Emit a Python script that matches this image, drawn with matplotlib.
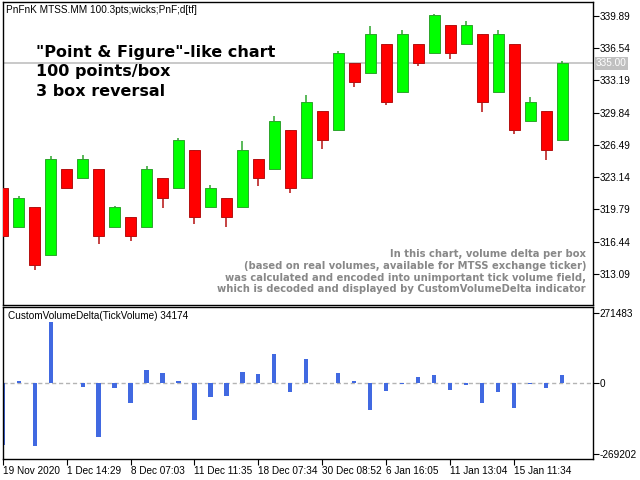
import matplotlib

matplotlib.use("Agg")
import matplotlib.pyplot as plt
import matplotlib.transforms as mtransforms

# boxes: open / close / high / low per column
opens = [322, 318, 320, 315, 324, 323, 324, 318, 319, 318, 323, 322, 326, 320, 321, 320, 325, 324,
         328, 323, 330, 328, 335, 334, 337, 332, 337, 336, 339, 337, 338, 332, 337, 329, 330, 327]
closes = [317, 321, 314, 325, 322, 325, 317, 320, 317, 324, 321, 327, 319, 322, 319, 326, 323, 329,
          322, 331, 327, 336, 333, 338, 331, 338, 335, 340, 336, 339, 331, 338, 328, 331, 326, 335]
highs = [322, 321.17, 320, 325.36, 324, 325.47, 324, 320.13, 319, 324.26, 323, 327.2, 326, 322.32,
         321, 326.89, 325, 329.49, 328, 331.67, 330, 336.25, 335, 338.85, 337, 338.43, 337, 340.1,
         339, 339.37, 338, 338.43, 337, 331.47, 330, 335.2]
lows = [317, 318, 313.51, 315, 322, 323, 316.21, 318, 316.52, 318, 319.95, 322, 318.29, 320, 317.98,
        320, 322.24, 324, 321.51, 323, 326.09, 328, 332.54, 334, 330.67, 332, 334.72, 336, 335.45,
        337, 329.94, 332, 327.65, 329, 324.95, 327]
volume_delta = [-234700, 9600, -238500, 235800, 2000, -12300, -204000, -17300, -74800, 51800,
                40300, 9600, -138800, -51800, -47900, 44100, 36400, 113100, -32600, 94000, 1500,
                40300, 9600, -100400, -27600, -2000, 24900, 32600, -23700, -4600, -73600, -31400,
                -92800, -1500, -16100, 34174]

last_price = 335.00
price_ticks = [339.89, 336.54, 333.19, 329.84, 326.49, 323.14, 319.79, 316.44, 313.09]
delta_ticks = [271483, 0, -269202]
date_pos = [0, 4, 8, 12, 16, 20, 24, 28, 32]
date_labels = ["19 Nov 2020", "1 Dec 14:29", "8 Dec 07:03", "11 Dec 11:35", "18 Dec 07:34",
               "30 Dec 08:52", "6 Jan 16:05", "11 Jan 13:04", "15 Jan 11:34"]

title = "PnFnK MTSS.MM 100.3pts;wicks;PnF;d[tf]"
big_lines = ['"Point & Figure"-like chart', "100 points/box", "3 box reversal"]
note_lines = [
    "In this chart, volume delta per box",
    "(based on real volumes, available for MTSS exchange ticker)",
    "was calculated and encoded into unimportant tick volume field,",
    "which is decoded and displayed by CustomVolumeDelta indicator",
]
indicator_label = "CustomVolumeDelta(TickVolume) 34174"

small_font = "Liberation Sans"
W, H = 640, 480


def px_box(x0, y0, x1, y1):
    # pixel box (top-left origin) -> figure fraction rect
    return [x0 / W, 1 - y1 / H, (x1 - x0) / W, (y1 - y0) / H]


fig = plt.figure(figsize=(6.4, 4.8), dpi=100)
ax = fig.add_axes(px_box(2.5, 2, 592.5, 305))
axv = fig.add_axes(px_box(2.5, 307, 592.5, 459))

xs = list(range(len(opens)))
xlim = (-0.01, 36.9)

# --- price panel
ax.axhline(last_price, color="#c0c0c0", lw=1.2, zorder=1)
for i in xs:
    up = closes[i] >= opens[i]
    face = "#00ff00" if up else "#ff0000"
    edge = "#2ca52c" if up else "#b51010"
    ax.vlines(i, lows[i], highs[i], color=edge, lw=1.1, zorder=2)
    ax.bar(i, closes[i] - opens[i], bottom=opens[i], width=0.69, color=face,
           edgecolor=edge, linewidth=0.7, zorder=3)

ax.set_xlim(*xlim)
ax.set_ylim(309.84, 341.35)
ax.set_xticks([])
ax.yaxis.tick_right()
ax.set_yticks(price_ticks)
ax.set_yticklabels([f"{v:.2f}" for v in price_ticks])
ax.tick_params(axis="y", direction="out", length=4, width=0.8, pad=1, labelsize=7.2)
for lab in ax.get_yticklabels():
    lab.set_fontfamily(small_font)

trans = mtransforms.blended_transform_factory(ax.transAxes, ax.transData)
ax.text(1.006, last_price, f"{last_price:.2f}", transform=trans, ha="left", va="center",
        fontsize=7.2, family=small_font, color="white",
        bbox=dict(boxstyle="square,pad=0.15", facecolor="#c0c0c0", edgecolor="none"))

fig.text(6 / W, 1 - 10 / H, title, ha="left", va="center", fontsize=7.2, family=small_font)
for k, line in enumerate(big_lines):
    fig.text(36 / W, 1 - (52 + 19.5 * k) / H, line, ha="left", va="center",
             fontsize=11.5, fontweight="bold")
for k, line in enumerate(note_lines):
    fig.text(586 / W, 1 - (254 + 11.8 * k) / H, line, ha="right", va="center",
             fontsize=7.2, fontweight="bold", color="#888888")

# --- volume delta panel
axv.axhline(0, color="#b4b4b4", lw=1, ls=(0, (3, 2)), zorder=1)
axv.bar(xs, volume_delta, width=0.26, color="#4169e1", zorder=2)
axv.set_xlim(*xlim)
axv.set_ylim(-289520, 293350)
axv.yaxis.tick_right()
axv.set_yticks(delta_ticks)
axv.set_yticklabels([str(v) for v in delta_ticks])
axv.set_xticks(date_pos)
axv.set_xticklabels(date_labels, ha="left")
axv.tick_params(axis="both", direction="out", length=4, width=0.8, pad=1, labelsize=7.2)
for lab in axv.get_yticklabels() + axv.get_xticklabels():
    lab.set_fontfamily(small_font)
axv.text(6 / W * W / 590, 0.94, indicator_label, transform=axv.transAxes, ha="left",
         va="center", fontsize=7.2, family=small_font)

for a in (ax, axv):
    for s in a.spines.values():
        s.set_color("black")
        s.set_linewidth(1)

fig.savefig("out.png", dpi=100)
